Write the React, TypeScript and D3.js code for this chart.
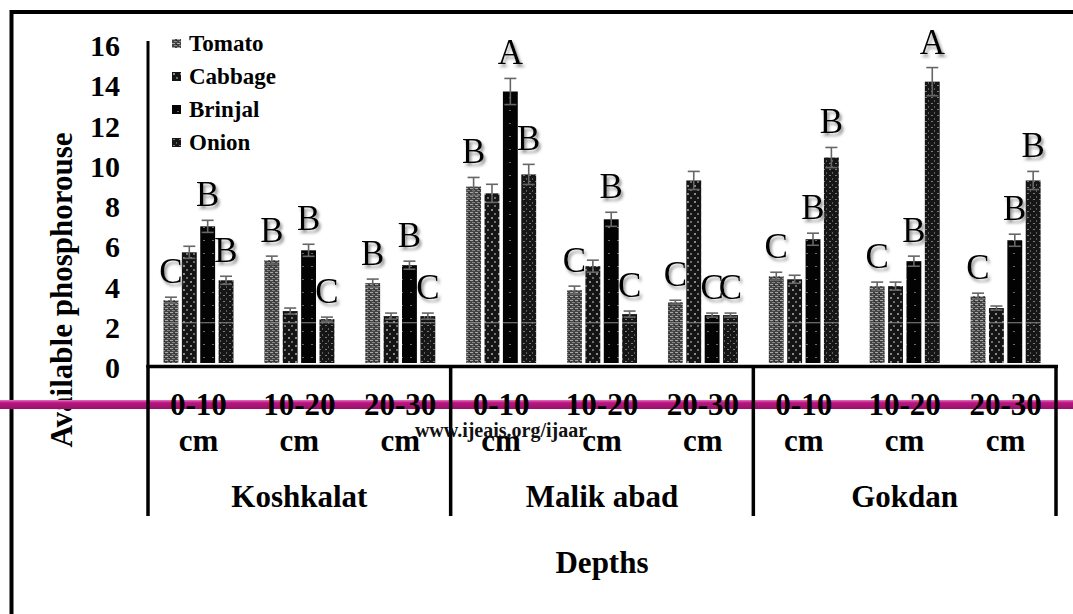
import React from "react";
import * as d3 from "d3";

const sites = ["Koshkalat", "Malik abad", "Gokdan"];
const depths = ["0-10", "10-20", "20-30"];
const depthUnit = "cm";
const seriesNames = ["Tomato", "Cabbage", "Brinjal", "Onion"];

// values in group order: Koshkalat 0-10,10-20,20-30, Malik abad ..., Gokdan ...
const tomato = [3.12, 5.11, 3.97, 8.77, 3.62, 3.02, 4.31, 3.82, 3.32];
const tomatoErr = [0.15, 0.2, 0.2, 0.45, 0.2, 0.1, 0.2, 0.2, 0.15];
const cabbage = [5.5, 2.58, 2.33, 8.43, 4.81, 9.07, 4.16, 3.82, 2.73];
const cabbageErr = [0.3, 0.15, 0.15, 0.45, 0.3, 0.45, 0.2, 0.2, 0.1];
const brinjal = [6.79, 5.6, 4.86, 13.49, 7.14, 2.38, 6.15, 5.06, 6.1];
const brinjalErr = [0.3, 0.3, 0.2, 0.65, 0.35, 0.1, 0.3, 0.25, 0.3];
const onion = [4.11, 2.18, 2.33, 9.37, 2.43, 2.38, 10.21, 13.98, 9.07];
const onionErr = [0.2, 0.1, 0.15, 0.5, 0.15, 0.1, 0.5, 0.7, 0.45];

const tomatoLetters = ["C", "B", "B", "B", "C", "C", "C", "C", "C"];
const cabbageLetters = ["", "", "", "", "", "", "", "", ""];
const brinjalLetters = ["B", "B", "B", "A", "B", "C", "B", "B", "B"];
const onionLetters = ["B", "C", "C", "B", "C", "C", "B", "A", "B"];

const yTicks = [0, 2, 4, 6, 8, 10, 12, 14, 16];
const gridValue = 2;
const yTitle = "Available phosphorouse";
const xTitle = "Depths";
const watermark = "www.ijeais.org/ijaar";

const values = [tomato, cabbage, brinjal, onion];
const errors = [tomatoErr, cabbageErr, brinjalErr, onionErr];
const letters = [tomatoLetters, cabbageLetters, brinjalLetters, onionLetters];
const patternIds = ["pTomato", "pCabbage", "pBrinjal", "pOnion"];

const W = 1073;
const H = 614;
const FONT = '"Liberation Serif", "Times New Roman", Times, "DejaVu Serif", serif';

export default function App() {
  const groups: string[] = [];
  sites.forEach((s) => depths.forEach((d) => groups.push(s + "|" + d)));

  const x0 = d3.scaleBand<string>().domain(groups).range([148, 1056]).padding(0);
  const x1 = d3
    .scaleBand<string>()
    .domain(seriesNames)
    .range([15.5, x0.bandwidth() - 15.4])
    .paddingInner(0.19);
  const y = d3.scaleLinear().domain([0, 16]).range([363, 41]);
  const siteScale = d3.scaleBand<string>().domain(sites).range([148, 1056]);

  const bars: any[] = [];
  groups.forEach((g, gi) => {
    seriesNames.forEach((s, si) => {
      const v = values[si][gi];
      const e = errors[si][gi];
      const bx = (x0(g) as number) + (x1(s) as number);
      bars.push({ g, gi, s, si, v, e, x: bx, w: x1.bandwidth(), cx: bx + x1.bandwidth() / 2, letter: letters[si][gi] });
    });
  });

  const tf = { fontFamily: FONT } as React.CSSProperties;

  return (
    <svg
      width={W}
      height={H}
      style={{ position: "absolute", left: 0, top: 0, background: "#fff", fontFamily: FONT }}
    >
      <defs>
        <pattern id="pTomato" patternUnits="userSpaceOnUse" width="5" height="4">
          <rect width="5" height="4" fill="#444" />
          <rect x="0" y="0" width="3" height="1" fill="#a8a8a8" />
          <rect x="2" y="2" width="3" height="1" fill="#858585" />
          <rect x="4" y="1" width="1" height="1" fill="#222" />
        </pattern>
        <pattern id="pCabbage" patternUnits="userSpaceOnUse" width="7" height="8">
          <rect width="7" height="8" fill="#141414" />
          <rect x="1" y="1" width="2" height="2" fill="#8a8a8a" />
          <rect x="4" y="5" width="2" height="2" fill="#6e6e6e" />
        </pattern>
        <pattern id="pBrinjal" patternUnits="userSpaceOnUse" width="9" height="13">
          <rect width="9" height="13" fill="#030303" />
          <rect x="5" y="6" width="2" height="1" fill="#6a6a6a" />
        </pattern>
        <pattern id="pOnion" patternUnits="userSpaceOnUse" width="6" height="6">
          <rect width="6" height="6" fill="#161616" />
          <rect x="1" y="1" width="2" height="1" fill="#7a7a7a" />
          <rect x="4" y="4" width="1" height="2" fill="#5e5e5e" />
        </pattern>
        <linearGradient id="band" x1="0" y1="0" x2="0" y2="1">
          <stop offset="0" stopColor="#ea72c2" />
          <stop offset="0.3" stopColor="#b8187f" />
          <stop offset="1" stopColor="#99106b" />
        </linearGradient>
        <filter id="shadow" x="-30%" y="-30%" width="160%" height="160%">
          <feDropShadow dx="2" dy="3" stdDeviation="1.8" floodColor="#777" floodOpacity="0.8" />
        </filter>
      </defs>

      {/* outer frame */}
      <path d={`M11.5,${H} V12 H${W}`} fill="none" stroke="#000" strokeWidth={4} />

      {/* bars */}
      {bars.map((b, i) => (
        <rect key={"b" + i} x={b.x} y={y(b.v)} width={b.w} height={y(0) - y(b.v)} fill={`url(#${patternIds[b.si]})`} />
      ))}

      {/* faint gridline at 2, visible across the bars */}
      {bars.map((b, i) => (
        <line key={"g" + i} x1={b.x} x2={b.x + b.w} y1={y(gridValue)} y2={y(gridValue)} stroke="#8a8a8a" strokeWidth={1} />
      ))}

      {/* error bars */}
      {bars.map((b, i) => (
        <g key={"e" + i} stroke="#666" strokeWidth={1.6}>
          <line x1={b.cx} x2={b.cx} y1={y(b.v + b.e)} y2={y(b.v - b.e)} />
          <line x1={b.cx - 6} x2={b.cx + 6} y1={y(b.v + b.e)} y2={y(b.v + b.e)} />
          <line x1={b.cx - 6} x2={b.cx + 6} y1={y(b.v - b.e)} y2={y(b.v - b.e)} />
        </g>
      ))}

      {/* letters */}
      {bars
        .filter((b) => b.letter)
        .map((b, i) => (
          <text
            key={"l" + i}
            x={b.cx}
            y={y(b.v + b.e) - 14}
            textAnchor="middle"
            fontSize={35}
            fill="#000"
            filter="url(#shadow)"
            style={tf}
          >
            {b.letter}
          </text>
        ))}

      {/* y axis */}
      <line x1={148} x2={148} y1={y(16)} y2={367} stroke="#000" strokeWidth={3} />
      {yTicks.map((t) => (
        <text key={"t" + t} x={120} y={y(t) + 15} textAnchor="end" fontSize={30} fontWeight="bold" style={tf}>
          {t}
        </text>
      ))}
      <text
        transform={`translate(72,290) rotate(-90)`}
        textAnchor="middle"
        fontSize={31}
        fontWeight="bold"
        style={tf}
      >
        {yTitle}
      </text>

      {/* legend */}
      {seriesNames.map((s, i) => (
        <g key={"lg" + s} transform={`translate(172,${39 + i * 33})`}>
          <rect width={9} height={9} fill={`url(#${patternIds[i]})`} />
          <text x={17} y={12} fontSize={23} fontWeight="bold" style={tf}>
            {s}
          </text>
        </g>
      ))}

      {/* magenta band */}
      <rect x={0} y={400} width={W} height={9} fill="url(#band)" />

      {/* category axis box */}
      <line x1={146.5} x2={1058} y1={366.5} y2={366.5} stroke="#000" strokeWidth={3.5} />
      {[...sites.map((s) => siteScale(s) as number), 1056].map((sx, i) => (
        <line key={"sep" + i} x1={sx} x2={sx} y1={365} y2={516} stroke="#000" strokeWidth={3.5} />
      ))}

      {groups.map((g) => {
        const cx = (x0(g) as number) + x0.bandwidth() / 2;
        const d = g.split("|")[1];
        return (
          <g key={"xl" + g} fontSize={31} fontWeight="bold" textAnchor="middle">
            <text x={cx} y={415} style={tf}>{d}</text>
            <text x={cx} y={451} style={tf}>{depthUnit}</text>
          </g>
        );
      })}
      {sites.map((s) => (
        <text
          key={"s" + s}
          x={(siteScale(s) as number) + siteScale.bandwidth() / 2}
          y={507}
          fontSize={31}
          fontWeight="bold"
          textAnchor="middle"
          style={tf}
        >
          {s}
        </text>
      ))}
      <text x={602} y={573} fontSize={31} fontWeight="bold" textAnchor="middle" style={tf}>
        {xTitle}
      </text>

      {/* watermark */}
      <text x={501} y={437} fontSize={20} fontWeight="bold" textAnchor="middle" fill="#111" style={tf}>
        {watermark}
      </text>
    </svg>
  );
}
